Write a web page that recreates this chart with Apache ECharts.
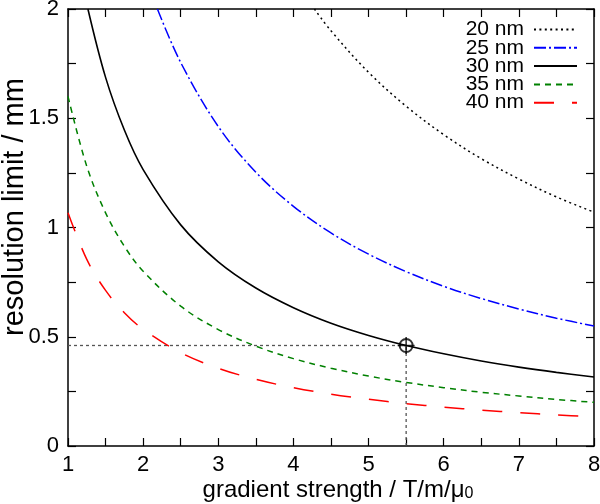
<!DOCTYPE html>
<html>
<head>
<meta charset="utf-8">
<script src="https://cdn.jsdelivr.net/npm/echarts@6/dist/echarts.min.js"></script>
<style>
  html, body { margin: 0; padding: 0; background: #fff; }
  #chart { width: 600px; height: 504px; }
</style>
</head>
<body>
<div id="chart"></div>
<script>
// ---- data ----
const seriesNames = ['20 nm', '25 nm', '30 nm', '35 nm', '40 nm'];

const x20 = [4.28, 4.5, 5, 5.5, 6, 6.5, 7, 7.5, 8];
const y20 = [2.0, 1.90, 1.71, 1.555, 1.425, 1.315, 1.222, 1.14, 1.07];

const x25 = [2.19, 2.5, 3, 3.5, 4, 4.5, 5, 5.5, 6, 6.5, 7, 7.5, 8];
const y25 = [2.0, 1.755, 1.462, 1.253, 1.097, 0.975, 0.878, 0.798, 0.731, 0.675, 0.627, 0.585, 0.549];

const x30 = [1.265, 1.5, 1.75, 2, 2.5, 3, 3.5, 4, 4.5, 5, 5.5, 6, 6.5, 7, 7.5, 8];
const y30 = [2.0, 1.687, 1.446, 1.265, 1.012, 0.843, 0.723, 0.633, 0.562, 0.506, 0.46, 0.422, 0.389, 0.361, 0.337, 0.316];

const x35 = [1, 1.25, 1.5, 1.75, 2, 2.5, 3, 3.5, 4, 4.5, 5, 5.5, 6, 6.5, 7, 7.5, 8];
const y35 = [1.6, 1.28, 1.067, 0.914, 0.8, 0.64, 0.533, 0.457, 0.4, 0.356, 0.32, 0.291, 0.267, 0.246, 0.229, 0.213, 0.2];

const x40 = [1, 1.25, 1.5, 1.75, 2, 2.5, 3, 3.5, 4, 4.5, 5, 5.5, 6, 6.5, 7, 7.5, 8];
const y40 = [1.068, 0.854, 0.712, 0.61, 0.534, 0.427, 0.356, 0.305, 0.267, 0.237, 0.214, 0.194, 0.178, 0.164, 0.153, 0.142, 0.134];

// operating point marked in the chart
const refX = 5.5;
const refY = 0.46;
const xMin = 1, xMax = 8;
const yMin = 0, yMax = 2;

const xTickLabels = ['1', '2', '3', '4', '5', '6', '7', '8'];
const yTickLabels = ['0', '0.5', '1', '1.5', '2'];

const xTitle = 'gradient strength / T/m/μ';
const xTitleSub = '0';
const yTitle = 'resolution limit / mm';

// ---- build ----
function pairs(xs, ys) { return xs.map((x, i) => [x, ys[i]]); }

const FONT = '"Liberation Sans", Arial, Helvetica, sans-serif';
const styles = {
  '20 nm': { color: '#000000', type: [2, 3.4], width: 1.5 },
  '25 nm': { color: '#0000ff', type: [12, 3, 2, 3], width: 1.5 },
  '30 nm': { color: '#000000', type: 'solid', width: 1.6 },
  '35 nm': { color: '#008000', type: [6, 5], width: 1.5 },
  '40 nm': { color: '#ff0000', type: [20, 18], width: 1.5 }
};
const dataSets = {
  '20 nm': pairs(x20, y20),
  '25 nm': pairs(x25, y25),
  '30 nm': pairs(x30, y30),
  '35 nm': pairs(x35, y35),
  '40 nm': pairs(x40, y40)
};

const axisCommon = {
  axisLine: { show: true, onZero: false, lineStyle: { color: '#000', width: 1.5 } },
  axisTick: { show: true, inside: true, length: 8, lineStyle: { color: '#000', width: 1.2 } },
  splitLine: { show: false }
};

const curveSeries = seriesNames.map(n => ({
  name: n,
  type: 'line',
  data: dataSets[n],
  smooth: 0.35,
  symbol: 'none',
  clip: true,
  lineStyle: { color: styles[n].color, width: styles[n].width, type: styles[n].type },
  itemStyle: { color: styles[n].color },
  z: 3
}));

const chart = echarts.init(document.getElementById('chart'), null, { renderer: 'canvas' });
chart.setOption({
  animation: false,
  backgroundColor: '#ffffff',
  grid: { left: 68, right: 6, top: 9, bottom: 58, containLabel: false, outerBoundsMode: 'none' },
  legend: {
    data: seriesNames,
    orient: 'vertical',
    right: 22,
    top: 19,
    padding: 0,
    align: 'right',
    itemWidth: 43,
    itemHeight: 12,
    itemGap: -2.7,
    itemStyle: { opacity: 0 },
    textStyle: { fontFamily: FONT, fontSize: 21, color: '#000', padding: [0, 5, 0, 0] }
  },
  graphic: [
    {
      type: 'text', x: 338, y: 490,
      style: {
        text: '{a|' + xTitle + '}{s|' + xTitleSub + '}',
        textAlign: 'center', textVerticalAlign: 'middle',
        rich: {
          a: { fontFamily: FONT, fontSize: 24, fill: '#000', color: '#000' },
          s: { fontFamily: FONT, fontSize: 16, fill: '#000', color: '#000', padding: [7, 0, 0, 0] }
        }
      }
    },
    {
      type: 'text', x: 15, y: 207, rotation: Math.PI / 2,
      style: {
        text: yTitle, fontFamily: FONT, fontSize: 29, fill: '#000',
        textAlign: 'center', textVerticalAlign: 'middle'
      }
    }
  ],
  xAxis: [
    Object.assign({}, axisCommon, {
      type: 'value', position: 'bottom', min: xMin, max: xMax, interval: 0.5,
      axisLabel: {
        fontFamily: FONT, fontSize: 22, color: '#000', margin: 8,
        formatter: v => (Number.isInteger(v) ? xTickLabels[v - xMin] : '')
      }
    }),
    Object.assign({}, axisCommon, {
      type: 'value', position: 'top', min: xMin, max: xMax, interval: 0.5,
      axisLabel: { show: false }
    })
  ],
  yAxis: [
    Object.assign({}, axisCommon, {
      type: 'value', position: 'left', min: yMin, max: yMax, interval: 0.25,
      axisLabel: {
        fontFamily: FONT, fontSize: 22, color: '#000', margin: 9,
        formatter: v => {
          const k = Math.round(v * 2);
          return Math.abs(v * 2 - k) < 1e-9 ? yTickLabels[k] : '';
        }
      }
    }),
    Object.assign({}, axisCommon, {
      type: 'value', position: 'right', min: yMin, max: yMax, interval: 0.25,
      axisLabel: { show: false }
    })
  ],
  series: curveSeries.concat([
    {
      name: 'refH', type: 'line', symbol: 'none',
      data: [[xMin, refY], [refX, refY]],
      lineStyle: { color: '#555', width: 1.3, type: [3, 3] }, z: 2
    },
    {
      name: 'refV', type: 'line', symbol: 'none',
      data: [[refX, yMin], [refX, refY]],
      lineStyle: { color: '#555', width: 1.3, type: [3, 3] }, z: 2
    },
    {
      name: 'refCircle', type: 'scatter', symbol: 'circle', symbolSize: 13,
      data: [[refX, refY]],
      itemStyle: { color: 'rgba(0,0,0,0)', borderColor: '#000', borderWidth: 2 }, z: 5
    },
    {
      name: 'refCross', type: 'scatter', symbol: 'path://M0,8L16,8M8,0L8,16', symbolSize: 17,
      data: [[refX, refY]],
      itemStyle: { color: 'rgba(0,0,0,0)', borderColor: '#000', borderWidth: 1.6 }, z: 5
    }
  ])
});
</script>
</body>
</html>
